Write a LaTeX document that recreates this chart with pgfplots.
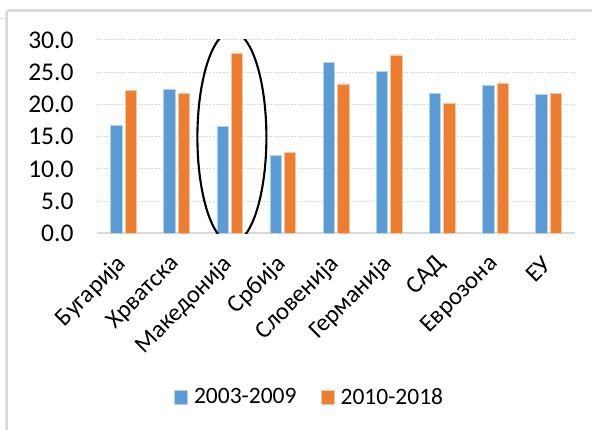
\documentclass[border=0pt]{standalone}
\usepackage{pgfplots}
\pgfplotsset{compat=1.18}
\usepackage{fontspec}
\setmainfont{Carlito}

\definecolor{barblue}{HTML}{5B9BD5}
\definecolor{barorange}{HTML}{ED7D31}
\definecolor{framegray}{HTML}{D9D9D9}

\begin{document}
\begin{tikzpicture}
% canvas and chart frame
\path[use as bounding box] (0pt,0pt) rectangle (592pt,430pt);
\draw[framegray, line width=2.6pt, rounded corners=3pt] (6.6pt,0pt) -- (6.6pt,419.5pt) -- (592pt,419.5pt);
\draw[framegray, line width=0.8pt] (0pt,412pt) -- (5pt,412pt);

\begin{axis}[
  at={(97pt,196.7pt)}, anchor=south west,
  scale only axis, width=478pt, height=193.3pt,
  ybar=3pt, bar width=11.4pt,
  xmin=-0.5, xmax=8.5, ymin=0, ymax=30,
  enlargelimits=false,
  xtick={0,...,8},
  xticklabels={Бугарија,Хрватска,Македонија,Србија,Словенија,Германија,САД,Еврозона,ЕУ},
  ytick={0,5,...,30},
  major tick length=0pt,
  axis lines*=left,
  y axis line style={draw=none},
  x axis line style={framegray, line width=2pt, -},
  ymajorgrids,
  grid style={framegray, line width=1pt, dash pattern=on 2pt off 1.4pt},
  /pgf/number format/assume math mode=true,
  yticklabel style={/pgf/number format/fixed, /pgf/number format/fixed zerofill,
    /pgf/number format/precision=1, font=\fontsize{25.5}{27}\selectfont,
    xshift=-20pt, text=black},
  xticklabel style={xshift=1.5pt, yshift=-24.7pt, rotate=45, anchor=east,
    font=\fontsize{24.5}{26}\selectfont, text=black},
  legend style={at={(0.4446,-0.847)}, anchor=center, draw=none, fill=none,
    legend columns=-1, font=\fontsize{23.5}{25}\selectfont,
    /tikz/every odd column/.append style={column sep=4pt},
    /tikz/every even column/.append style={column sep=22pt}},
  legend image code/.code={\fill[#1] (0pt,-6.8pt) rectangle (13.5pt,6.8pt);},
]
\addplot[fill=barblue, draw=barblue!45!white, line width=0.6pt] coordinates {
  (0,16.8) (1,22.3) (2,16.55) (3,12.15) (4,26.5)
  (5,25.15) (6,21.7) (7,23.0) (8,21.6)};
\addplot[fill=barorange, draw=barorange!45!white, line width=0.6pt] coordinates {
  (0,22.2) (1,21.8) (2,27.95) (3,12.55) (4,23.2)
  (5,27.7) (6,20.2) (7,23.3) (8,21.7)};
\legend{2003-2009,2010-2018}
% highlight around the Macedonian pair
\draw[black, line width=2.1pt] (axis cs:2.04,14.9) ellipse [x radius=34.5pt, y radius=105.7pt];
\end{axis}
\end{tikzpicture}
\end{document}
